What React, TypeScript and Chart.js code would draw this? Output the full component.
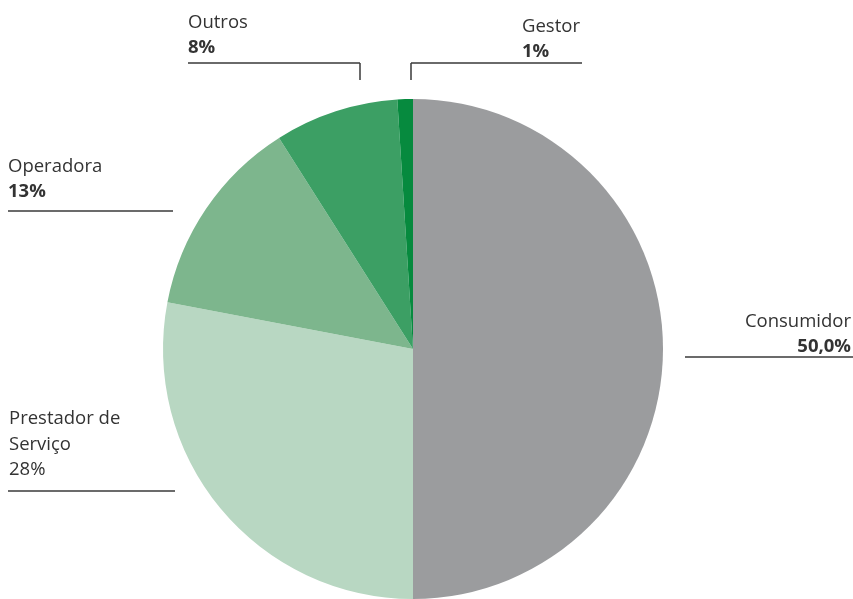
import React, { useEffect, useRef } from "react";
import { Chart, registerables } from "chart.js";

Chart.register(...registerables);

const categories = ["Consumidor", "Prestador de Serviço", "Operadora", "Outros", "Gestor"];
const values = [50, 28, 13, 8, 1];
const valueLabels = ["50,0%", "28%", "13%", "8%", "1%"];
const colors = ["#9b9c9e", "#b8d7c2", "#7db68d", "#3c9f64", "#068a3e"];

// annotation layout (label text lines + leader lines), drawn by plugin
type LabelLayout = {
  lines: string[];
  bold: boolean;
  align: "left" | "right";
  x: number;
  y: number; // first baseline
  rule: [number, number, number]; // x1, x2, y
  drop?: [number, number]; // vertical tick x, bottom y
};

const layout: LabelLayout[] = [
  { lines: ["Consumidor"], bold: true, align: "right", x: 851, y: 327, rule: [685, 853, 357] },
  { lines: ["Prestador de", "Serviço"], bold: false, align: "left", x: 9, y: 424, rule: [8, 175, 491] },
  { lines: ["Operadora"], bold: true, align: "left", x: 8, y: 172, rule: [8, 173, 211] },
  { lines: ["Outros"], bold: true, align: "left", x: 188, y: 28, rule: [188, 360, 63], drop: [360, 80] },
  { lines: ["Gestor"], bold: true, align: "left", x: 522, y: 32, rule: [411, 582, 63], drop: [411, 80] },
];

const FONT = "'Open Sans', 'Noto Sans', sans-serif";

const labelPlugin = {
  id: "sideLabels",
  afterDraw(chart: any) {
    const ctx = chart.ctx as CanvasRenderingContext2D;
    ctx.save();
    layout.forEach((l, i) => {
      ctx.fillStyle = "#333333";
      ctx.textAlign = l.align;
      ctx.textBaseline = "alphabetic";
      let y = l.y;
      ctx.font = `400 18.5px ${FONT}`;
      l.lines.forEach((t) => {
        ctx.fillText(t, l.x, y);
        y += 26;
      });
      ctx.font = `${l.bold ? 700 : 400} 18.5px ${FONT}`;
      ctx.fillText(valueLabels[i], l.x, y - 1);
      ctx.strokeStyle = "#3a3a3a";
      ctx.lineWidth = 1.5;
      ctx.beginPath();
      ctx.moveTo(l.rule[0], l.rule[2]);
      ctx.lineTo(l.rule[1], l.rule[2]);
      if (l.drop) {
        ctx.moveTo(l.drop[0], l.rule[2]);
        ctx.lineTo(l.drop[0], l.drop[1]);
      }
      ctx.stroke();
    });
    ctx.restore();
  },
};

export default function App() {
  const ref = useRef<HTMLCanvasElement | null>(null);
  useEffect(() => {
    if (!ref.current) return;
    const chart = new Chart(ref.current, {
      type: "pie",
      data: {
        labels: categories,
        datasets: [
          {
            data: values,
            backgroundColor: colors,
            borderWidth: 0,
          },
        ],
      },
      options: {
        animation: false,
        responsive: true,
        maintainAspectRatio: false,
        layout: { padding: { top: 99, right: 27, bottom: 0, left: 0 } },
        plugins: {
          legend: { display: false },
          tooltip: { enabled: false },
        },
      },
      plugins: [labelPlugin],
    });
    return () => chart.destroy();
  }, []);
  return (
    <div style={{ position: "fixed", left: 0, top: 0, width: 853, height: 599, background: "#fff" }}>
      <canvas ref={ref} />
    </div>
  );
}
